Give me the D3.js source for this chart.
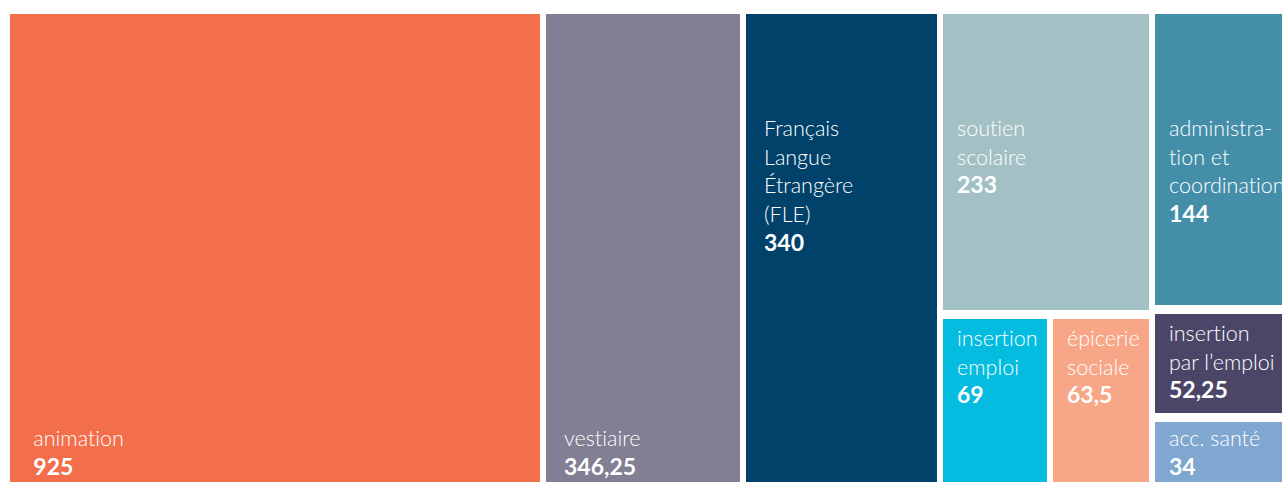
<!DOCTYPE html>
<html>
<head>
<meta charset="utf-8">
<script src="https://cdn.jsdelivr.net/npm/d3@7"></script>
<style>
  html, body { margin: 0; padding: 0; background: #fff; }
  svg { display: block; }
  text { font-family: Lato, "Open Sans", sans-serif; fill: #fff; font-variant-ligatures: none; }
</style>
</head>
<body>
<svg width="1282" height="482"></svg>
<script>
// données
var categories = ["animation", "vestiaire", "Français Langue Étrangère (FLE)", "soutien scolaire",
                  "insertion emploi", "épicerie sociale", "administration et coordination",
                  "insertion par l’emploi", "acc. santé"];
var values = [925, 346.25, 340, 233, 69, 63.5, 144, 52.25, 34];
var valueLabels = ["925", "346,25", "340", "233", "69", "63,5", "144", "52,25", "34"];
var labelLines = [["animation"], ["vestiaire"], ["Français", "Langue", "Étrangère", "(FLE)"],
                  ["soutien", "scolaire"], ["insertion", "emploi"], ["épicerie", "sociale"],
                  ["administra-", "tion et", "coordination"], ["insertion", "par l’emploi"], ["acc. santé"]];
// colonne et ligne de chaque case
var column = [0, 1, 2, 3, 3, 3, 4, 4, 4];
var row    = [0, 0, 0, 0, 1, 1, 0, 1, 2];

var colors = ["#F36E4B", "#827E93", "#01426A", "#A3C1C5", "#04BCE0", "#F8A688", "#448EA9", "#4B4668", "#7FA7D0"];
var bottomLabel = ["animation", "vestiaire", "acc. santé"];

window.onload = function(){
    build_chart();
}

function build_chart(){
    var svg = d3.select("svg"),
        margin = {top: 14, left: 10},
        width = 1272,
        height = 470,
        g = svg.append("g").attr("transform", "translate(" + margin.left + "," + margin.top + ")");

    /*
    Construire la hiérarchie : colonnes > lignes > cases
    */
    var cols = [];
    categories.forEach(function(c, i) {
        if (!cols[column[i]]) cols[column[i]] = {children: []};
        var rows = cols[column[i]].children;
        if (!rows[row[i]]) rows[row[i]] = {children: []};
        rows[row[i]].children.push({name: c, value: values[i], idx: i});
    });

    var root = d3.hierarchy({children: cols})
        .sum(function(d) { return d.children ? 0 : d.value; });

    d3.treemap()
        .size([width, height])
        .tile(d3.treemapSliceDice)
        .paddingInner(function(d) { return d.depth === 1 ? 9 : 6; })
        .round(true)(root);

    var leaf = g.selectAll("g.leaf")
        .data(root.leaves())
        .enter().append("g")
        .attr("class", "leaf")
        .attr("transform", function(d) { return "translate(" + d.x0 + "," + d.y0 + ")"; });

    leaf.append("rect")
        .attr("width", function(d) { return d.x1 - d.x0; })
        .attr("height", function(d) { return d.y1 - d.y0; })
        .attr("fill", function(d) { return colors[d.data.idx]; });

    var lineH = 28.7;

    leaf.each(function(d) {
        var i = d.data.idx,
            w = d.x1 - d.x0,
            h = d.y1 - d.y0,
            full = (d.y0 === 0 && d.y1 === height);
        var inset = full ? Math.max(18, w * 0.044) : 14;
        var lines = labelLines[i];
        var first;
        if (bottomLabel.indexOf(categories[i]) > -1) {
            first = h - 9 - lines.length * lineH;
        } else {
            first = d.y0 === 0 ? 122 : 27;
        }
        var t = d3.select(this).append("text")
            .attr("x", inset)
            .attr("font-size", 21.5)
            .attr("font-weight", 300);
        lines.forEach(function(l, k) {
            t.append("tspan")
                .attr("x", inset)
                .attr("y", first + k * lineH)
                .text(l);
        });
        t.append("tspan")
            .attr("x", inset)
            .attr("y", first + lines.length * lineH)
            .attr("font-weight", "bold")
            .attr("font-size", 23)
            .text(valueLabels[i]);
    });
}
</script>
</body>
</html>
